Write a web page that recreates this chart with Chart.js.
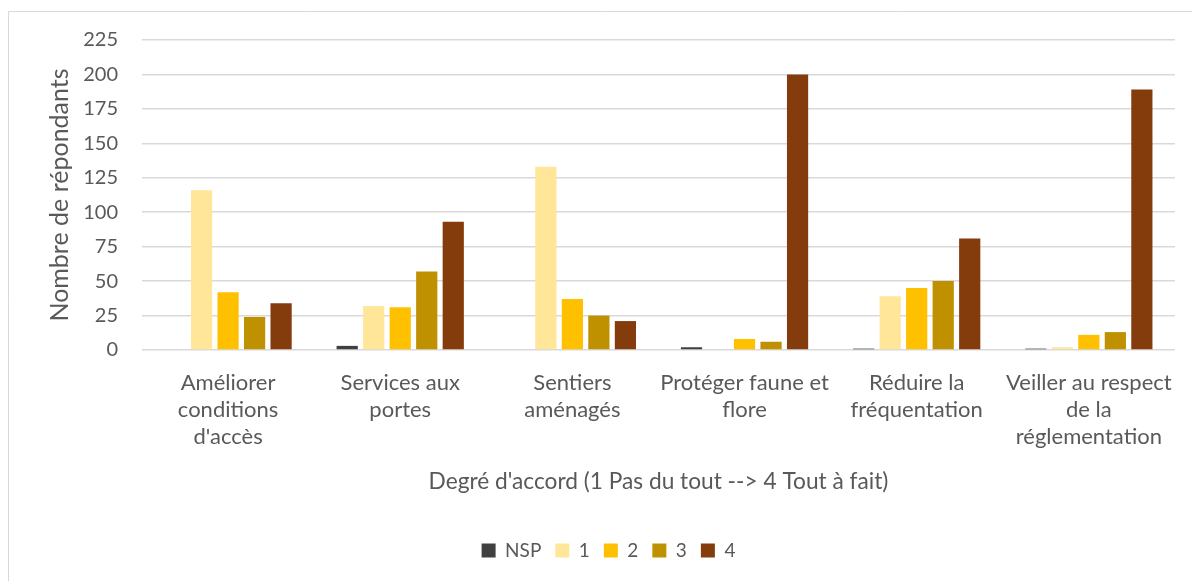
<!DOCTYPE html>
<html>
<head>
<meta charset="utf-8">
<script src="https://cdn.jsdelivr.net/npm/chart.js@4.4.0/dist/chart.umd.min.js"></script>
<style>
  html, body { margin: 0; padding: 0; background: #fff; }
  #wrap { position: absolute; left: 0; top: 0; width: 1192px; height: 581px; }
</style>
</head>
<body>
<div id="wrap"><canvas id="c" width="1192" height="581"></canvas></div>
<script>
const categories = [
  ["Améliorer", "conditions", "d'accès"],
  ["Services aux", "portes"],
  ["Sentiers", "aménagés"],
  ["Protéger faune et", "flore"],
  ["Réduire la", "fréquentation"],
  ["Veiller au respect", "de la", "réglementation"]
];
const seriesNames = ["NSP", "1", "2", "3", "4"];
const valuesNSP = [0, 3, 0, 2, 1, 1];
const values1   = [116, 32, 133, 0, 39, 2];
const values2   = [42, 31, 37, 8, 45, 11];
const values3   = [24, 57, 25, 6, 50, 13];
const values4   = [34, 93, 21, 200, 81, 189];
const seriesColors = ["#404040", "#FFE699", "#FFC000", "#BF9000", "#843C0C"];
const yTicks = [0, 25, 50, 75, 100, 125, 150, 175, 200, 225];
const yTitle = "Nombre de répondants";
const xTitle = "Degré d'accord (1 Pas du tout --> 4 Tout à fait)";

const allValues = [valuesNSP, values1, values2, values3, values4];
const FONT = "Lato, 'Open Sans', sans-serif";
const TXT = "#595959";

const borderPlugin = {
  id: 'outerBorder',
  beforeDraw(chart) {
    const ctx = chart.ctx;
    ctx.save();
    ctx.strokeStyle = '#d9d9d9';
    ctx.lineWidth = 1;
    ctx.beginPath();
    ctx.moveTo(8.5, 600);
    ctx.lineTo(8.5, 11.5);
    ctx.lineTo(1200, 11.5);
    ctx.stroke();
    ctx.restore();
  }
};

new Chart(document.getElementById('c'), {
  type: 'bar',
  data: {
    labels: categories,
    datasets: seriesNames.map((n, i) => ({
      label: n,
      data: allValues[i],
      backgroundColor: seriesColors[i],
      borderWidth: 0,
      categoryPercentage: 0.77,
      barPercentage: 0.8
    }))
  },
  options: {
    responsive: false,
    animation: false,
    devicePixelRatio: 1,
    layout: { padding: { left: 41, right: 16, top: 40, bottom: 11 } },
    plugins: {
      tooltip: { enabled: false },
      legend: {
        position: 'bottom',
        labels: {
          boxWidth: 14, boxHeight: 14, padding: 14,
          color: TXT,
          font: { family: FONT, size: 19 }
        }
      }
    },
    scales: {
      x: {
        grid: { display: false, drawTicks: false },
        border: { display: false },
        ticks: {
          color: TXT, padding: 19,
          font: { family: FONT, size: 22, lineHeight: 1.23 },
          maxRotation: 0, autoSkip: false
        },
        title: {
          display: true, text: xTitle, color: TXT,
          font: { family: FONT, size: 22.7 },
          padding: { top: 0, bottom: 32 }
        },
        afterFit(scale) { scale.height = 177; }
      },
      y: {
        min: 0, max: 225,
        afterBuildTicks(scale) { scale.ticks = yTicks.map(v => ({ value: v })); },
        grid: { color: '#d9d9d9', lineWidth: 1.5, drawTicks: false },
        border: { display: false },
        ticks: {
          color: TXT, padding: 24,
          font: { family: FONT, size: 20 }
        },
        title: {
          display: true, text: yTitle, color: TXT,
          font: { family: FONT, size: 25 },
          padding: { top: 4, bottom: 0 }
        },
        afterFit(scale) { scale.width = 101; }
      }
    }
  },
  plugins: [borderPlugin]
});
</script>
</body>
</html>
